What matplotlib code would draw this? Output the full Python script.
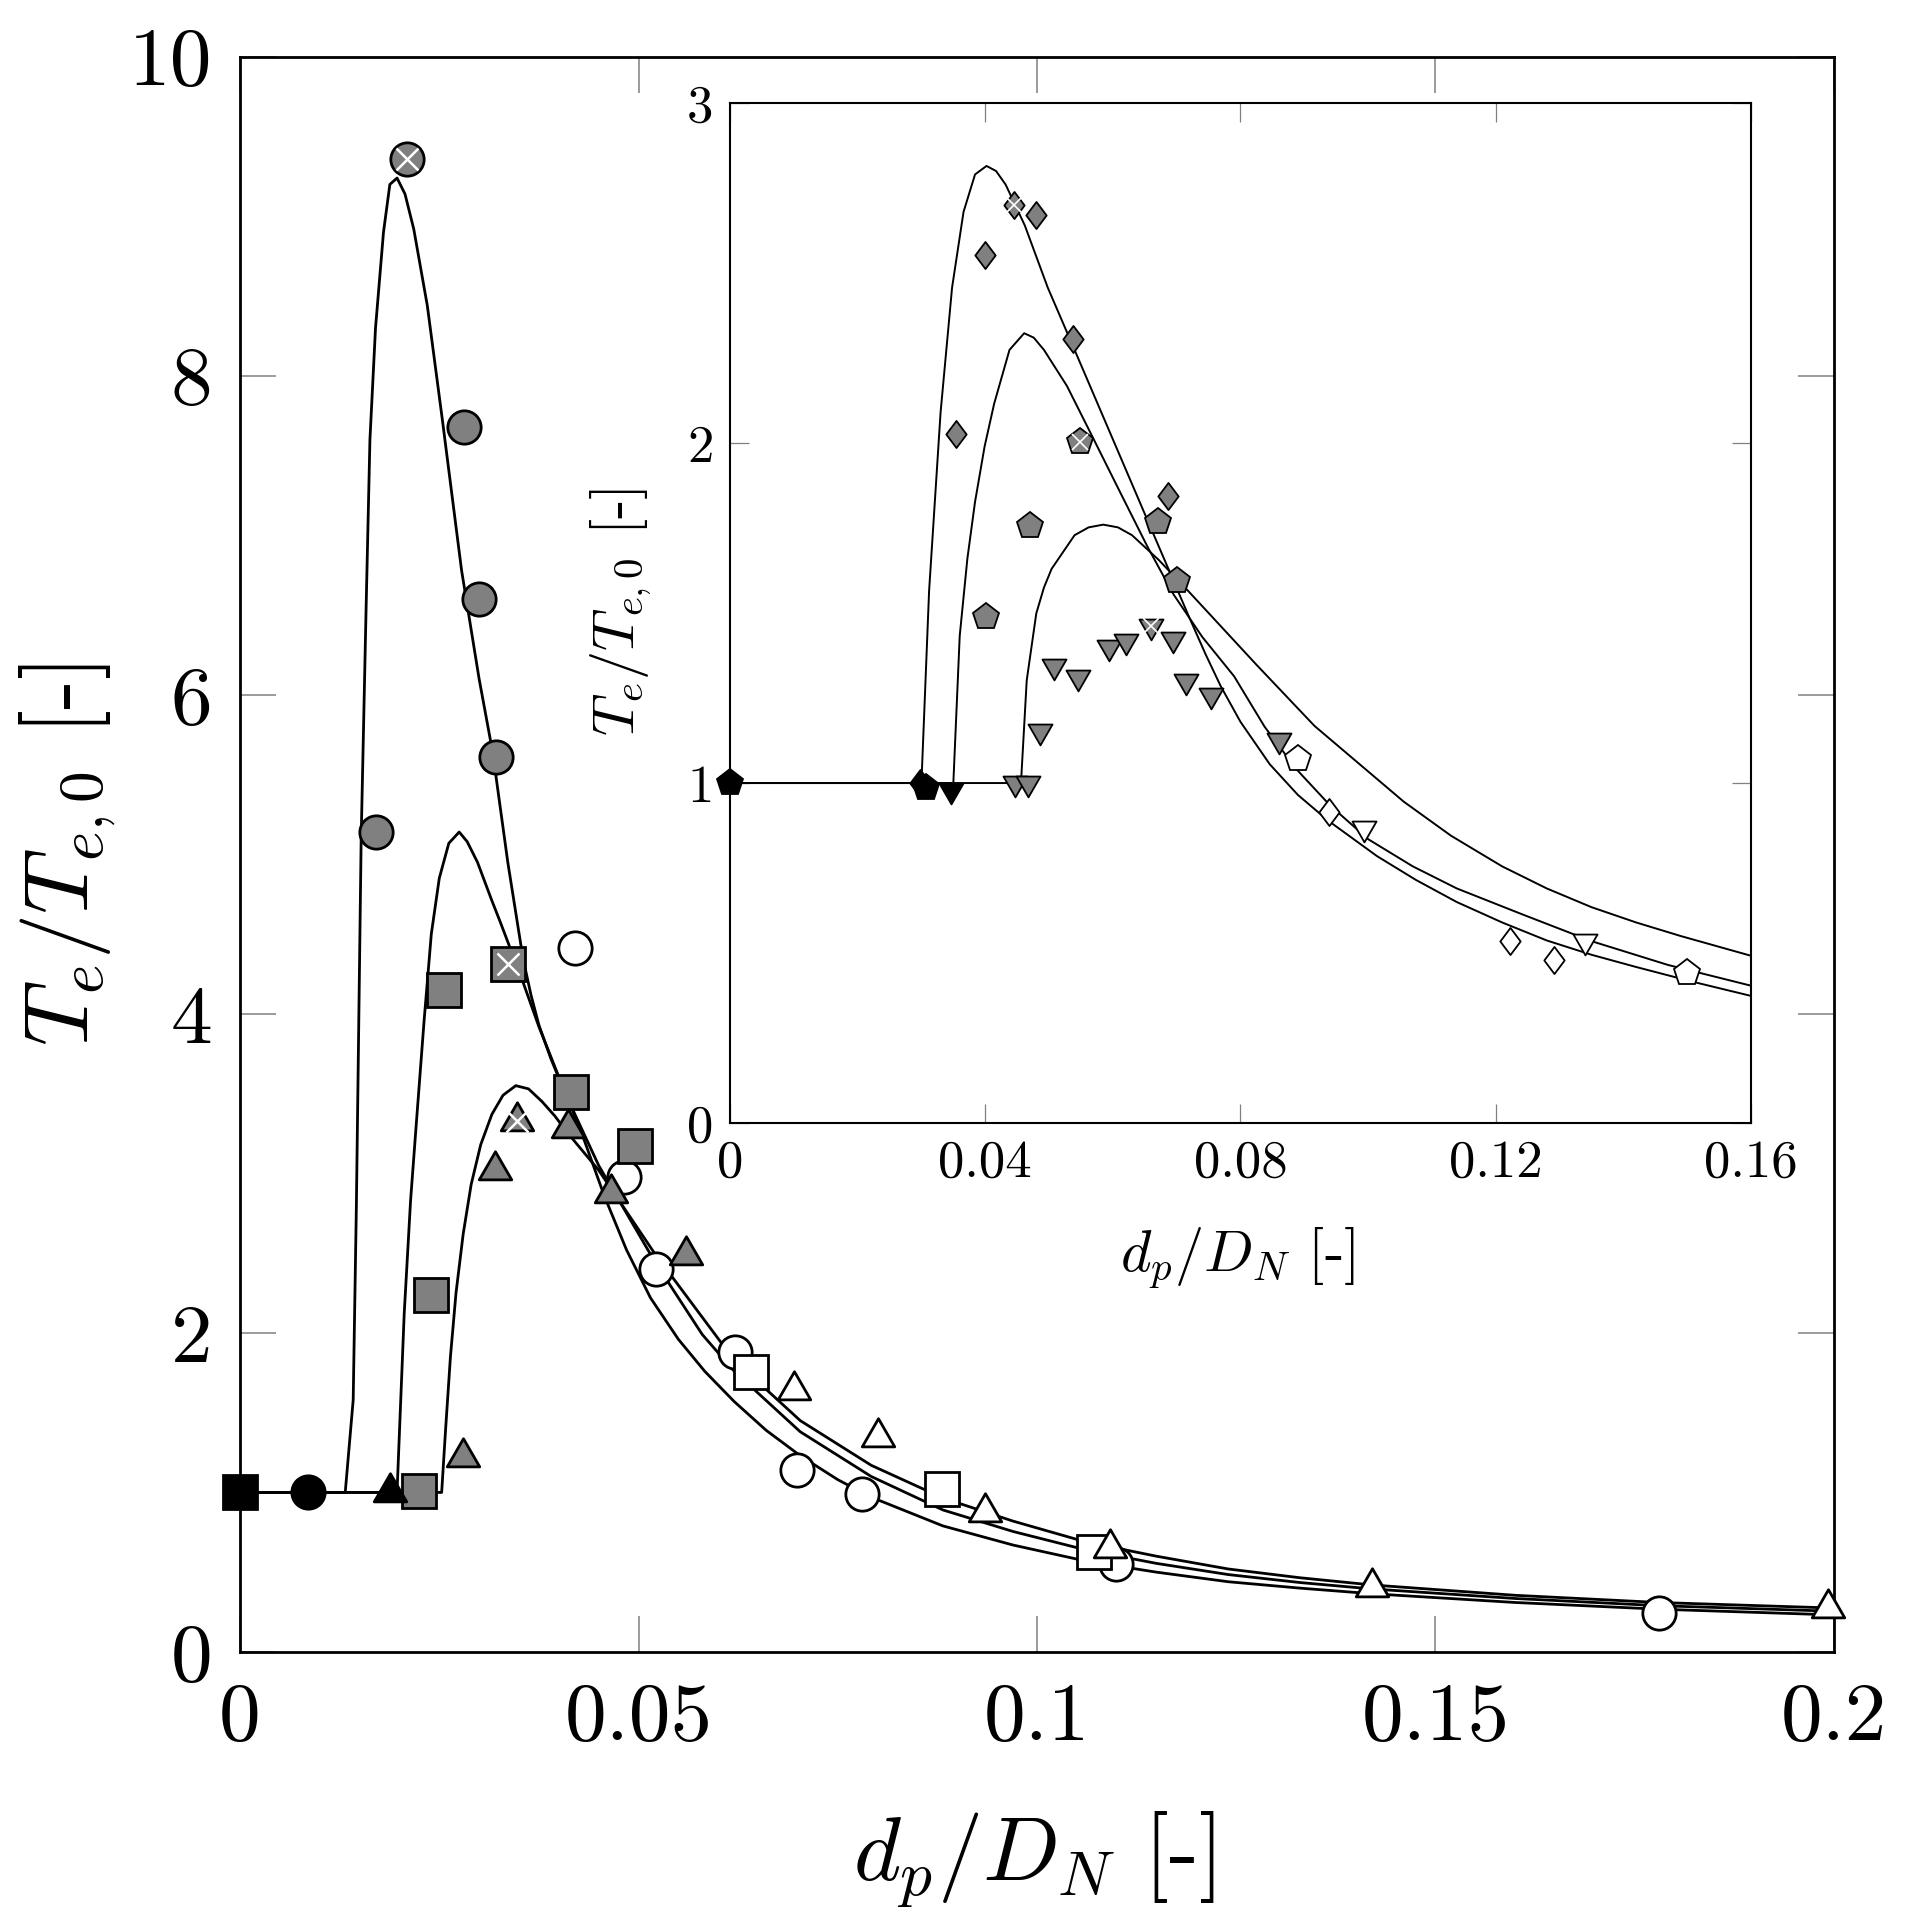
import matplotlib
matplotlib.use("Agg")
import matplotlib.pyplot as plt
from matplotlib.path import Path

plt.rcParams['font.family'] = ['cmr10', 'DejaVu Serif']
plt.rcParams['mathtext.fontset'] = 'cm'
plt.rcParams['axes.unicode_minus'] = False
plt.rcParams['axes.formatter.use_mathtext'] = True

# ---------------- main plot data ----------------
# model curves
curve1_x = [0.0, 0.0132, 0.0142, 0.0146, 0.0152, 0.0158, 0.0163, 0.0170, 0.0180, 0.0188,
            0.0197, 0.0207, 0.0218, 0.0235, 0.0254, 0.0278, 0.0300, 0.0317, 0.0336, 0.0355,
            0.0365, 0.0375, 0.0390, 0.0408, 0.0426, 0.0457, 0.0485, 0.0515, 0.0550, 0.0583,
            0.0620, 0.0660, 0.0703, 0.0750, 0.0792, 0.0882, 0.0970, 0.1061, 0.1150, 0.1240,
            0.1330, 0.1420, 0.1600, 0.1780, 0.2000]
curve1_y = [1.0, 1.0, 1.58, 2.80, 5.10, 6.50, 7.60, 8.30, 8.90, 9.20,
            9.24, 9.14, 8.92, 8.44, 7.72, 6.78, 6.10, 5.64, 4.95, 4.35,
            4.12, 3.93, 3.72, 3.50, 3.29, 2.86, 2.52, 2.22, 1.96, 1.76,
            1.57, 1.39, 1.23, 1.08, 0.97, 0.79, 0.67, 0.57, 0.50, 0.44,
            0.40, 0.365, 0.31, 0.268, 0.232]

curve2_x = [0.0, 0.0197, 0.0206, 0.0214, 0.0221, 0.0231, 0.0240, 0.0250, 0.0262, 0.0275,
            0.0285, 0.0298, 0.0316, 0.0327, 0.0355, 0.0375, 0.0410, 0.0450, 0.0520, 0.0580,
            0.0620, 0.0703, 0.0792, 0.0882, 0.0970, 0.1061, 0.1150, 0.1240, 0.1330, 0.1420,
            0.1600, 0.1780, 0.2000]
curve2_y = [1.0, 1.0, 2.12, 2.83, 3.30, 3.96, 4.50, 4.85, 5.07, 5.14,
            5.08, 4.95, 4.71, 4.57, 4.20, 3.92, 3.48, 3.05, 2.45, 1.99,
            1.76, 1.38, 1.10, 0.89, 0.755, 0.64, 0.555, 0.485, 0.435, 0.395,
            0.335, 0.29, 0.255]

curve3_x = [0.0, 0.0253, 0.0258, 0.0264, 0.0271, 0.0280, 0.0290, 0.0302, 0.0316, 0.0330,
            0.0346, 0.0362, 0.0379, 0.0395, 0.0410, 0.0450, 0.0520, 0.0620, 0.0703, 0.0792,
            0.0882, 0.0970, 0.1061, 0.1150, 0.1240, 0.1330, 0.1420, 0.1600, 0.1780, 0.2000]
curve3_y = [1.0, 1.0, 1.40, 1.85, 2.25, 2.62, 2.93, 3.18, 3.37, 3.49,
            3.55, 3.53, 3.45, 3.36, 3.26, 3.02, 2.50, 1.83, 1.45, 1.17,
            0.965, 0.82, 0.69, 0.60, 0.52, 0.465, 0.42, 0.355, 0.31, 0.275]

# measured points
black_sq_x, black_sq_y = [0.0], [1.0]
black_ci_x, black_ci_y = [0.0085], [1.0]
black_tr_x, black_tr_y = [0.0188], [1.0]

gray_ci_x = [0.01705, 0.0281, 0.0300, 0.0321]
gray_ci_y = [5.14, 7.68, 6.60, 5.61]
gray_ci_cross = (0.0210, 9.36)

gray_sq_x = [0.0224, 0.0240, 0.0256, 0.0415, 0.0496]
gray_sq_y = [1.01, 2.24, 4.15, 3.51, 3.17]
gray_sq_cross = (0.0336, 4.31)

gray_tr_x = [0.0280, 0.0320, 0.0412, 0.0466, 0.0560]
gray_tr_y = [1.225, 3.02, 3.285, 2.88, 2.49]
gray_tr_cross = (0.0347, 3.33)

white_ci_x = [0.0420, 0.0482, 0.0522, 0.0621, 0.0699, 0.0781, 0.1099, 0.1780]
white_ci_y = [4.41, 2.98, 2.40, 1.88, 1.14, 0.99, 0.55, 0.244]

white_sq_x = [0.0641, 0.0881, 0.1072]
white_sq_y = [1.755, 1.02, 0.628]

white_tr_x = [0.0695, 0.0800, 0.0935, 0.1092, 0.1420, 0.1993]
white_tr_y = [1.64, 1.35, 0.88, 0.654, 0.406, 0.277]

main_xticks = [0, 0.05, 0.1, 0.15, 0.2]
main_xlabels = ['0', '0.05', '0.1', '0.15', '0.2']
main_yticks = [0, 2, 4, 6, 8, 10]
main_ylabels = ['0', '2', '4', '6', '8', '10']

# ---------------- inset data ----------------
inA_x = [0.0, 0.0300, 0.0312, 0.0330, 0.0348, 0.0366, 0.0384, 0.0402, 0.0417, 0.0432,
         0.0462, 0.0498, 0.0540, 0.0600, 0.0660, 0.0690, 0.0720, 0.0745, 0.0769, 0.0800,
         0.0846, 0.0890, 0.0937, 0.1014, 0.1075, 0.1139, 0.1210, 0.1280, 0.1350, 0.1420,
         0.1510, 0.1600]
inA_y = [1.0, 1.0, 1.565, 2.09, 2.457, 2.68, 2.79, 2.815, 2.80, 2.76,
         2.64, 2.457, 2.274, 2.011, 1.748, 1.617, 1.486, 1.38, 1.285, 1.18,
         1.055, 0.965, 0.89, 0.785, 0.715, 0.650, 0.59, 0.537, 0.495, 0.459,
         0.415, 0.374]

inB_x = [0.0, 0.0350, 0.0360, 0.0372, 0.0384, 0.0399, 0.0414, 0.0438, 0.0461, 0.0476,
         0.0492, 0.0528, 0.0570, 0.0612, 0.0654, 0.0695, 0.0740, 0.0790, 0.0838, 0.0888,
         0.0940, 0.1000, 0.1070, 0.1139, 0.1240, 0.1350, 0.1470, 0.1600]
inB_y = [1.0, 1.0, 1.433, 1.66, 1.827, 1.99, 2.116, 2.274, 2.323, 2.31,
         2.274, 2.168, 2.011, 1.853, 1.696, 1.555, 1.43, 1.314, 1.165, 1.04,
         0.935, 0.835, 0.755, 0.69, 0.615, 0.535, 0.465, 0.404]

inC_x = [0.0, 0.0456, 0.0465, 0.0480, 0.0492, 0.0504, 0.0540, 0.0562, 0.0585, 0.0608,
         0.0630, 0.0672, 0.0720, 0.0825, 0.0916, 0.1056, 0.1130, 0.1210, 0.1280, 0.1350,
         0.1420, 0.1490, 0.1600]
inC_y = [1.0, 1.0, 1.302, 1.499, 1.575, 1.630, 1.729, 1.752, 1.760, 1.752,
         1.729, 1.656, 1.561, 1.348, 1.168, 0.945, 0.845, 0.755, 0.69, 0.635,
         0.59, 0.55, 0.492]

in_black_pe_x, in_black_pe_y = [0.0, 0.0307], [1.0, 0.985]
in_black_di_x, in_black_di_y = [0.0298], [1.0]
in_black_tr_x, in_black_tr_y = [0.0346], [0.98]

in_gray_di_x = [0.0354, 0.0400, 0.0480, 0.0537, 0.0686]
in_gray_di_y = [2.027, 2.553, 2.670, 2.306, 1.844]
in_gray_di_cross = (0.0445, 2.700)

in_gray_pe_x = [0.0401, 0.0470, 0.0671, 0.0700]
in_gray_pe_y = [1.488, 1.755, 1.768, 1.593]
in_gray_pe_cross = (0.0549, 2.004)

in_gray_tr_x = [0.0447, 0.0467, 0.0486, 0.0507, 0.0546, 0.0594, 0.0620, 0.0694, 0.0714,
                0.0754, 0.0861]
in_gray_tr_y = [1.0, 1.0, 1.154, 1.345, 1.312, 1.401, 1.417, 1.423, 1.299,
                1.259, 1.128]
in_gray_tr_cross = (0.0660, 1.463)

in_white_pe_x, in_white_pe_y = [0.0890, 0.1500], [1.072, 0.441]
in_white_di_x, in_white_di_y = [0.0938, 0.1222, 0.1291], [0.916, 0.535, 0.481]
in_white_tr_x, in_white_tr_y = [0.0993, 0.1340], [0.868, 0.536]

in_xticks = [0, 0.04, 0.08, 0.12, 0.16]
in_xlabels = ['0', '0.04', '0.08', '0.12', '0.16']
in_yticks = [0, 1, 2, 3]
in_ylabels = ['0', '1', '2', '3']

# pgfplots-like marker shapes (centred on the circumcentre)
TRI_UP = Path([(0, 1), (-0.866, -0.5), (0.866, -0.5), (0, 1)], closed=True)
TRI_DOWN = Path([(0, -1), (0.866, 0.5), (-0.866, 0.5), (0, -1)], closed=True)
DIAMOND = Path([(0, 1), (0.75, 0), (0, -1), (-0.75, 0), (0, 1)], closed=True)

GRAY = '#808080'


def pts(ax, x, y, marker, face, ms, mew, z):
    ax.plot(x, y, ls='none', marker=marker, mfc=face, mec='black',
            ms=ms, mew=mew, clip_on=False, zorder=z)


def cross(ax, xy, ms, mew):
    ax.plot([xy[0]], [xy[1]], ls='none', marker='x', mec='white',
            ms=ms, mew=mew, clip_on=False, zorder=7)


fig = plt.figure(figsize=(19.08, 19.26), dpi=100)

# ---------------- main axes ----------------
ax = fig.add_axes([0.1258, 0.1423, 0.8354, 0.8282])
for cx, cy in [(curve1_x, curve1_y), (curve2_x, curve2_y), (curve3_x, curve3_y)]:
    ax.plot(cx, cy, color='black', lw=2.0, zorder=2, solid_joinstyle='round')

ms_main, mew_main = 24, 2.0
pts(ax, white_ci_x, white_ci_y, 'o', 'white', ms_main, mew_main, 3)
pts(ax, white_sq_x, white_sq_y, 's', 'white', ms_main, mew_main, 3)
pts(ax, white_tr_x, white_tr_y, TRI_UP, 'white', 27, mew_main, 3)
pts(ax, gray_ci_x + [gray_ci_cross[0]], gray_ci_y + [gray_ci_cross[1]], 'o', GRAY, ms_main, mew_main, 4)
pts(ax, gray_sq_x + [gray_sq_cross[0]], gray_sq_y + [gray_sq_cross[1]], 's', GRAY, ms_main, mew_main, 4)
pts(ax, gray_tr_x + [gray_tr_cross[0]], gray_tr_y + [gray_tr_cross[1]], TRI_UP, GRAY, 27, mew_main, 5)
pts(ax, black_sq_x, black_sq_y, 's', 'black', ms_main, mew_main, 6)
pts(ax, black_ci_x, black_ci_y, 'o', 'black', ms_main, mew_main, 6)
pts(ax, black_tr_x, black_tr_y, TRI_UP, 'black', 27, mew_main, 6)
for c in (gray_ci_cross, gray_sq_cross, gray_tr_cross):
    cross(ax, c, 16, 1.8)

ax.set_xlim(0, 0.2)
ax.set_ylim(0, 10)
ax.set_xticks(main_xticks, main_xlabels)
ax.set_yticks(main_yticks, main_ylabels)
ax.tick_params(direction='in', length=26, width=1.1, color='#808080',
               top=True, right=True, labelsize=60)
ax.tick_params(axis='x', pad=22)
ax.tick_params(axis='y', pad=20)
for s in ax.spines.values():
    s.set_linewidth(2.0)
ax.set_xlabel(r'$d_p/D_N$ [-]', fontsize=65, va='center', ha='center')
ax.set_ylabel(r'$T_e/T_{e,0}$ [-]', fontsize=65, va='center', ha='center')
ax.xaxis.set_label_coords(0.498, -0.13)
ax.yaxis.set_label_coords(-0.108, 0.5)

# ---------------- inset ----------------
axi = fig.add_axes([0.3826, 0.4169, 0.5351, 0.5296])
axi.set_facecolor('white')
for cx, cy in [(inA_x, inA_y), (inB_x, inB_y), (inC_x, inC_y)]:
    axi.plot(cx, cy, color='black', lw=1.4, zorder=2, solid_joinstyle='round')

ms_in, mew_in = 19.5, 1.3
pts(axi, in_white_pe_x, in_white_pe_y, 'p', 'white', ms_in, mew_in, 3)
pts(axi, in_white_di_x, in_white_di_y, DIAMOND, 'white', ms_in, mew_in, 3)
pts(axi, in_white_tr_x, in_white_tr_y, TRI_DOWN, 'white', 20, mew_in, 3)
pts(axi, in_gray_di_x + [in_gray_di_cross[0]], in_gray_di_y + [in_gray_di_cross[1]],
    DIAMOND, GRAY, ms_in, mew_in, 4)
pts(axi, in_gray_pe_x + [in_gray_pe_cross[0]], in_gray_pe_y + [in_gray_pe_cross[1]],
    'p', GRAY, ms_in, mew_in, 4)
pts(axi, in_gray_tr_x + [in_gray_tr_cross[0]], in_gray_tr_y + [in_gray_tr_cross[1]],
    TRI_DOWN, GRAY, 20, mew_in, 5)
pts(axi, in_black_di_x, in_black_di_y, DIAMOND, 'black', ms_in, mew_in, 6)
pts(axi, in_black_pe_x, in_black_pe_y, 'p', 'black', ms_in, mew_in, 6)
pts(axi, in_black_tr_x, in_black_tr_y, TRI_DOWN, 'black', 20, mew_in, 6)
for c in (in_gray_di_cross, in_gray_pe_cross, in_gray_tr_cross):
    cross(axi, c, 11, 1.2)

axi.set_xlim(0, 0.16)
axi.set_ylim(0, 3)
axi.set_xticks(in_xticks, in_xlabels)
axi.set_yticks(in_yticks, in_ylabels)
axi.tick_params(direction='in', length=14, width=0.9, color='#808080',
                top=True, right=True, labelsize=38)
axi.tick_params(axis='x', pad=12)
axi.tick_params(axis='y', pad=12)
for s in axi.spines.values():
    s.set_linewidth(1.5)
axi.set_xlabel(r'$d_p/D_N$ [-]', fontsize=42, va='center', ha='center')
axi.set_ylabel(r'$T_e/T_{e,0}$ [-]', fontsize=42, va='center', ha='center')
axi.xaxis.set_label_coords(0.497, -0.133)
axi.yaxis.set_label_coords(-0.106, 0.501)

fig.savefig('out.png', dpi=100)
